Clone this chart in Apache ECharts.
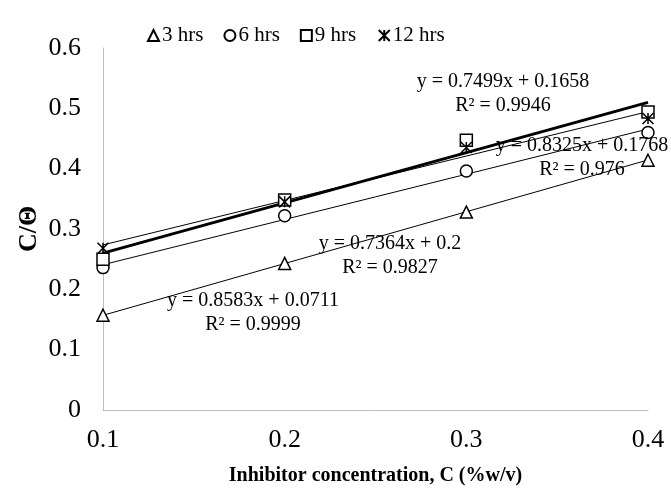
<!DOCTYPE html>
<html>
<head>
<meta charset="utf-8">
<script src="https://cdn.jsdelivr.net/npm/echarts@6/dist/echarts.min.js"></script>
<style>
  html, body { margin: 0; padding: 0; background: #fff; }
  #chart { width: 671px; height: 494px; }
</style>
</head>
<body>
<div id="chart"></div>
<script>
// Inhibitor concentration (%w/v)
const concentrations = [0.1, 0.2, 0.3, 0.4];

// C/Θ at each immersion time
const seriesNames = ['3 hrs', '6 hrs', '9 hrs', '12 hrs'];
const values3h  = [0.157, 0.243, 0.328, 0.414];
const values6h  = [0.236, 0.322, 0.396, 0.460];
const values9h  = [0.250, 0.348, 0.447, 0.494];
const values12h = [0.268, 0.345, 0.435, 0.483];

// Linear trendline coefficients (y = slope * x + intercept) and R²
const slopes     = [0.8583, 0.7499, 0.8325, 0.7364];
const intercepts = [0.0711, 0.1658, 0.1768, 0.2];
const rSquared   = ['0.9999', '0.9946', '0.976', '0.9827'];

// Axis ticks
const xTicks = [0.1, 0.2, 0.3, 0.4];
const yTicks = [0, 0.1, 0.2, 0.3, 0.4, 0.5, 0.6];

const serif = '"Liberation Serif", "Times New Roman", serif';
const allValues = [values3h, values6h, values9h, values12h];
const symbols = [
  'triangle',
  'circle',
  'rect',
  'path://M0,0L10,10M10,0L0,10M5,0L5,10'
];
const symbolSizes = [12, 12, 12, 11];

const scatterSeries = seriesNames.map((name, i) => ({
  name: name,
  type: 'scatter',
  symbol: symbols[i],
  symbolSize: symbolSizes[i],
  z: 3,
  itemStyle: {
    color: i === 3 ? 'none' : '#ffffff',
    borderColor: '#000000',
    borderWidth: 1.5,
    opacity: 1
  },
  data: concentrations.map((c, k) => [c, allValues[i][k]])
}));

const xMin = xTicks[0], xMax = xTicks[xTicks.length - 1];
const trendSeries = seriesNames.map((name, i) => ({
  name: name + ' trend',
  type: 'line',
  symbol: 'none',
  silent: true,
  z: 2,
  lineStyle: { color: '#000000', width: i === 2 ? 3 : 1 },
  data: [
    [xMin, slopes[i] * xMin + intercepts[i]],
    [xMax, slopes[i] * xMax + intercepts[i]]
  ]
}));

function fmt(v) { return String(Math.round(v * 10) / 10); }

// Equation label layout: [center x, center y] of the equation line
const eqPlacement = [
  [253, 301],
  [503, 82],
  [582, 146],
  [390, 244]
];
const eqGraphics = [];
seriesNames.forEach((n, i) => {
  const eq = 'y = ' + slopes[i] + 'x + ' + intercepts[i];
  const r2 = 'R² = ' + rSquared[i];
  const [cx, cy] = eqPlacement[i];
  eqGraphics.push({
    type: 'text', x: cx, y: cy, z: 10,
    style: { text: eq, font: '20px ' + serif, fill: '#000', align: 'center', verticalAlign: 'middle' }
  });
  eqGraphics.push({
    type: 'text', x: cx, y: cy + 24, z: 10,
    style: { text: r2, font: '20px ' + serif, fill: '#000', align: 'center', verticalAlign: 'middle' }
  });
});

const chart = echarts.init(document.getElementById('chart'), null, { renderer: 'canvas' });
chart.setOption({
  animation: false,
  backgroundColor: '#ffffff',
  grid: { left: 103, right: 23, top: 48, bottom: 84, containLabel: false },
  legend: {
    data: seriesNames,
    left: 142,
    top: 20,
    itemGap: 20,
    itemWidth: 11,
    itemHeight: 11,
    textStyle: { fontFamily: serif, fontSize: 21, color: '#000', padding: [0, 0, 0, -2] }
  },
  xAxis: {
    type: 'value',
    min: xMin,
    max: xMax,
    interval: 0.1,
    name: 'Inhibitor concentration, C (%w/v)',
    nameLocation: 'middle',
    nameGap: 56,
    nameMoveOverlap: false,
    nameTextStyle: { fontFamily: serif, fontSize: 20, fontWeight: 'bold', color: '#000' },
    axisLine: { show: true, lineStyle: { color: '#bfbfbf', width: 1 } },
    axisTick: { show: false },
    splitLine: { show: false },
    axisLabel: { fontFamily: serif, fontSize: 26, color: '#000', margin: 17, formatter: fmt }
  },
  yAxis: {
    type: 'value',
    min: yTicks[0],
    max: yTicks[yTicks.length - 1],
    interval: 0.1,
    name: 'C/Θ',
    nameLocation: 'middle',
    nameGap: 61,
    nameMoveOverlap: false,
    nameRotate: 90,
    nameTextStyle: { fontFamily: serif, fontSize: 26, fontWeight: 'bold', color: '#000' },
    axisLine: { show: true, lineStyle: { color: '#bfbfbf', width: 1 } },
    axisTick: { show: false },
    splitLine: { show: false },
    axisLabel: { fontFamily: serif, fontSize: 26, color: '#000', margin: 22, formatter: fmt }
  },
  graphic: eqGraphics,
  series: trendSeries.concat(scatterSeries)
});
</script>
</body>
</html>
